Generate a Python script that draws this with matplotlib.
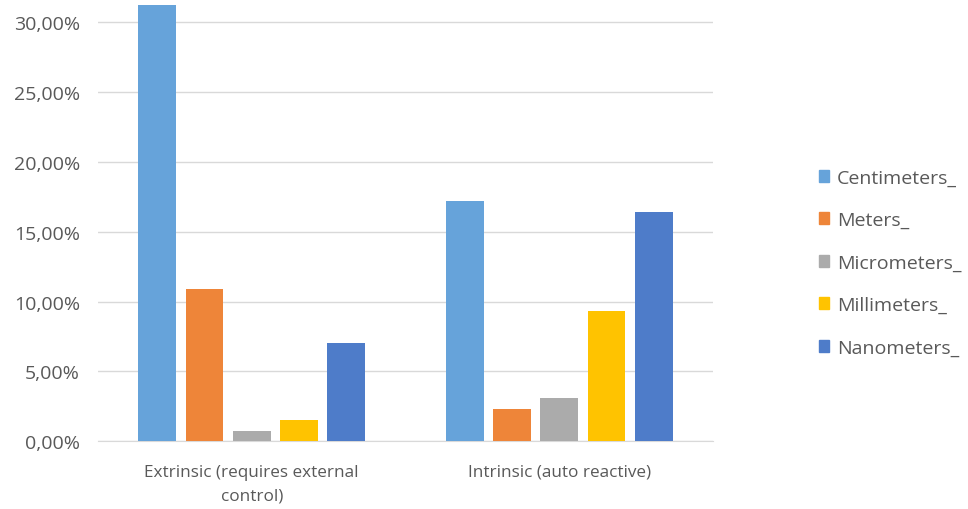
import matplotlib.pyplot as plt
from matplotlib.patches import Patch
from matplotlib.ticker import FuncFormatter
import numpy as np

# data
categories = ["Extrinsic (requires external\ncontrol)", "Intrinsic (auto reactive)"]
series = ["Centimeters_", "Meters_", "Micrometers_", "Millimeters_", "Nanometers_"]
centimeters = [31.23, 17.17]
meters = [10.87, 2.31]
micrometers = [0.72, 3.12]
millimeters = [1.50, 9.30]
nanometers = [7.01, 16.38]
colors = ["#66A3DA", "#EE8539", "#ABABAB", "#FFC300", "#4E7CC9"]

values = [centimeters, meters, micrometers, millimeters, nanometers]

plt.rcParams['font.family'] = ['Open Sans', 'DejaVu Sans']
txt = "#595959"

fig = plt.figure(figsize=(9.68, 5.10), dpi=100)
ax = fig.add_axes([98 / 968, 1 - 442.3 / 510, 615 / 968, 442.3 / 510])

x = np.arange(len(categories))
step = 0.1538
width = 0.1226
for i, (name, vals, c) in enumerate(zip(series, values, colors)):
    ax.bar(x + (i - 2) * step, vals, width=width, color=c, label=name, zorder=3)

ax.set_xlim(-0.5, 1.5)
ax.set_ylim(0, 442.3 / 13.98)
ax.set_yticks(np.arange(0, 31, 5))
ax.yaxis.set_major_formatter(FuncFormatter(lambda v, p: f"{v:.2f}%".replace(".", ",")))
ax.grid(axis='y', color="#D9D9D9", linewidth=1, zorder=0)
for s in ["top", "left", "right"]:
    ax.spines[s].set_visible(False)
ax.spines["bottom"].set_color("#D9D9D9")
ax.tick_params(axis='both', length=0, labelcolor=txt)
ax.tick_params(axis='y', pad=13, labelsize=14)
ax.tick_params(axis='x', pad=16, labelsize=12.3)
ax.set_xticks(x)
ax.set_xticklabels(categories, linespacing=1.65)

handles = [Patch(color=c) for c in colors]
fig.legend(handles, series, loc='center left', bbox_to_anchor=(801 / 968, 1 - 263.7 / 510),
           frameon=False, fontsize=14, labelcolor=txt, handlelength=0.55, handleheight=0.55,
           handletextpad=0.4, labelspacing=1.26)

fig.savefig("out.png", dpi=100)
